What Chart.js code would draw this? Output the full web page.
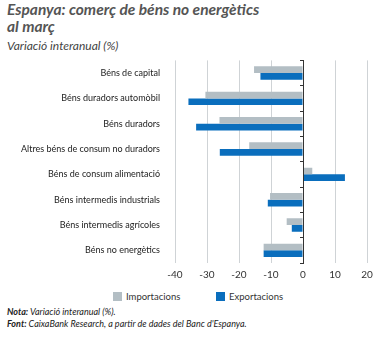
<!DOCTYPE html>
<html>
<head>
<meta charset="utf-8">
<script src="https://cdn.jsdelivr.net/npm/chart.js@4"></script>
<style>
  body { margin: 0; width: 384px; height: 338px; overflow: hidden; background: #fff; font-family: Lato, sans-serif; color: #333; }
  #title { position: absolute; left: 7px; top: 1px; font-size: 15.5px; font-weight: bold; font-style: italic; line-height: 17px; color: #555; }
  #subtitle { position: absolute; left: 7px; top: 38px; font-size: 12px; font-style: italic; color: #444; }
  #box { position: absolute; left: 0; top: 48px; width: 384px; height: 241px; }
  #legend { position: absolute; top: 291px; left: 113px; font-size: 9.5px; color: #333; }
  #legend span.sw { display: inline-block; width: 9px; height: 9px; vertical-align: -1px; margin-right: 4px; }
  #legend span.item { position: absolute; white-space: nowrap; }
  #notes { position: absolute; left: 7px; top: 306px; font-size: 9px; font-style: italic; line-height: 12px; color: #222; }
</style>
</head>
<body>
<div id="title">Espanya: comerç de béns no energètics<br>al març</div>
<div id="subtitle">Variació interanual (%)</div>
<div id="box"><canvas id="chart"></canvas></div>
<div id="legend">
  <span class="item" style="left:0"><span class="sw" style="background:#b3bec4"></span>Importacions</span>
  <span class="item" style="left:103px"><span class="sw" style="background:#0a6ebd"></span>Exportacions</span>
</div>
<div id="notes"><b>Nota:</b> Variació interanual (%).<br><b>Font:</b> CaixaBank Research, a partir de dades del Banc d'Espanya.</div>
<script>
// Categories and values (year-on-year change, %)
const categories = [
    'Béns de capital',
    'Béns duradors automòbil',
    'Béns duradors',
    'Altres béns de consum no duradors',
    'Béns de consum alimentació',
    'Béns intermedis industrials',
    'Béns intermedis agrícoles',
    'Béns no energètics',
];

const importacions = [-15.3, -30.5, -26.1, -16.8, 2.9, -10.3, -5.1, -12.3];
const exportacions = [-13.3, -35.8, -33.4, -26.0, 13.1, -11.0, -3.5, -12.3];

const x_ticks = [-40, -30, -20, -10, 0, 10, 20];

const data = {
    labels: categories,
    datasets: [{
        label: 'Importacions',
        data: importacions,
        backgroundColor: '#b3bec4',
    }, {
        label: 'Exportacions',
        data: exportacions,
        backgroundColor: '#0a6ebd',
    }]
};

const config = {
  type: 'bar',
  data: data,
  options: {
    indexAxis: 'y',
    responsive: true,
    maintainAspectRatio: false,
    animation: false,
    layout: { padding: { left: 0, right: 17, top: 10, bottom: 2 } },
    datasets: {
        bar: { categoryPercentage: 0.53, barPercentage: 1.0 }
    },
    plugins: {
        legend: { display: false },
        tooltip: { enabled: false }
    },
    scales: {
        x: {
            min: -40,
            max: 20,
            afterBuildTicks: (scale) => {
                scale.ticks = x_ticks.map(v => ({ value: v }));
            },
            grid: { color: '#cfd3d6', drawTicks: false },
            border: { display: false },
            ticks: { padding: 6, color: '#333', font: { family: 'Lato', size: 10 } }
        },
        y: {
            afterFit: (scale) => { scale.width = 175; },
            grid: { display: false },
            border: { display: false },
            ticks: { padding: 7, color: '#222', font: { family: 'Lato', size: 9 } }
        },
        // dark zero line with small ticks between the categories
        y0: {
            axis: 'y',
            type: 'category',
            position: { x: 0 },
            labels: categories,
            offset: true,
            grid: { z: 1, drawOnChartArea: false, offset: true, tickLength: 3, color: '#333' },
            border: { z: 1, display: true, color: '#333', width: 1 },
            ticks: { display: false }
        }
    }
  }
};

const chart = new Chart(document.getElementById('chart'), config);
</script>
</body>
</html>
